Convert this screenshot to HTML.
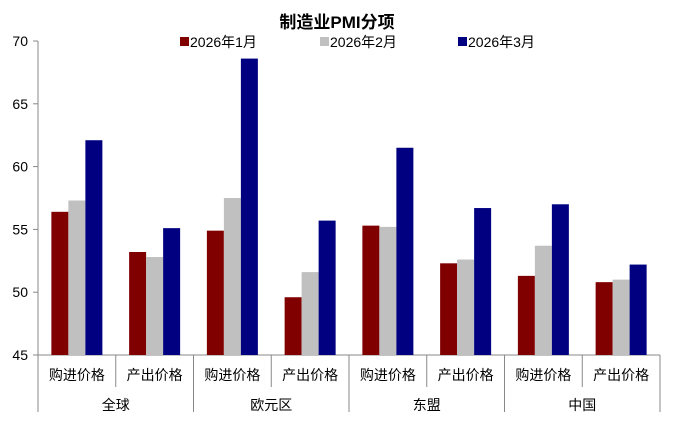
<!DOCTYPE html>
<html><head><meta charset="utf-8"><style>
body{margin:0;background:#fff;}
svg{font-family:"Liberation Sans","Noto Sans CJK SC",sans-serif;}
</style></head><body>
<svg id="chart" width="673" height="429"></svg>
<script>
const subCats=["购进价格","产出价格","购进价格","产出价格","购进价格","产出价格","购进价格","产出价格"];
const groups=["全球","欧元区","东盟","中国"];
const seriesNames=["2026年1月","2026年2月","2026年3月"];
const jan=[56.4,53.2,54.9,49.6,55.3,52.3,51.3,50.8];
const feb=[57.3,52.8,57.5,51.6,55.2,52.6,53.7,51.0];
const mar=[62.1,55.1,68.6,55.7,61.5,56.7,57.0,52.2];
const yTicks=[45,50,55,60,65,70];
const colors=["#800000","#c0c0c0","#000080"];
const svg=document.getElementById('chart');
const NS="http://www.w3.org/2000/svg";
function mk(t,a,p){const e=document.createElementNS(NS,t);for(const k in a)e.setAttribute(k,a[k]);(p||svg).appendChild(e);return e;}
const x0=38,x1=660,yTop=41,yBot=355,ymin=45,ymax=70;
const y=v=>yBot-(v-ymin)/(ymax-ymin)*(yBot-yTop);
const cw=(x1-x0)/subCats.length;
let t=mk('text',{x:337,y:28,'text-anchor':'middle','font-size':17,'font-weight':'bold',fill:'#000'});t.textContent="制造业PMI分项";

const lx=[180,320,458];
seriesNames.forEach((n,i)=>{
  const g=mk('g',{});
  
  
  mk('rect',{x:lx[i],y:37,width:9,height:9,fill:colors[i]},g);
  const tt=mk('text',{x:lx[i]+10,y:47,'font-size':14,fill:'#000'},g);tt.textContent=n;
});
const ya=mk('line',{x1:x0,y1:yTop,x2:x0,y2:yBot,stroke:'#888'});

yTicks.forEach(v=>{
  mk('line',{x1:x0-5,y1:y(v),x2:x0,y2:y(v),stroke:'#888'});
  const tx=mk('text',{x:x0-10,y:y(v)+5,'text-anchor':'end','font-size':14,fill:'#000'});tx.textContent=v;
  
});
const xa=mk('line',{x1:x0,y1:yBot,x2:x1,y2:yBot,stroke:'#888'});

for(let i=0;i<=subCats.length;i++){
  const xx=x0+i*cw;
  mk('line',{x1:xx,y1:yBot,x2:xx,y2:i%2===0?412:387,stroke:'#888'});
}
subCats.forEach((c,i)=>{
  const tx=mk('text',{x:x0+(i+0.5)*cw,y:380,'text-anchor':'middle','font-size':14,fill:'#000'});tx.textContent=c;
  
});
groups.forEach((g,i)=>{
  const tx=mk('text',{x:x0+(i*2+1)*cw,y:410,'text-anchor':'middle','font-size':14,fill:'#000'});tx.textContent=g;
  
});
const bw=17;
[jan,feb,mar].forEach((s,si)=>{
  s.forEach((v,i)=>{
    const cx=x0+(i+0.5)*cw;
    const bx=cx-1.5*bw+si*bw;
    const r=mk('rect',{x:bx,y:y(v),width:bw,height:yBot-y(v),fill:colors[si]});
    
    
  });
});
</script>
</body></html>
